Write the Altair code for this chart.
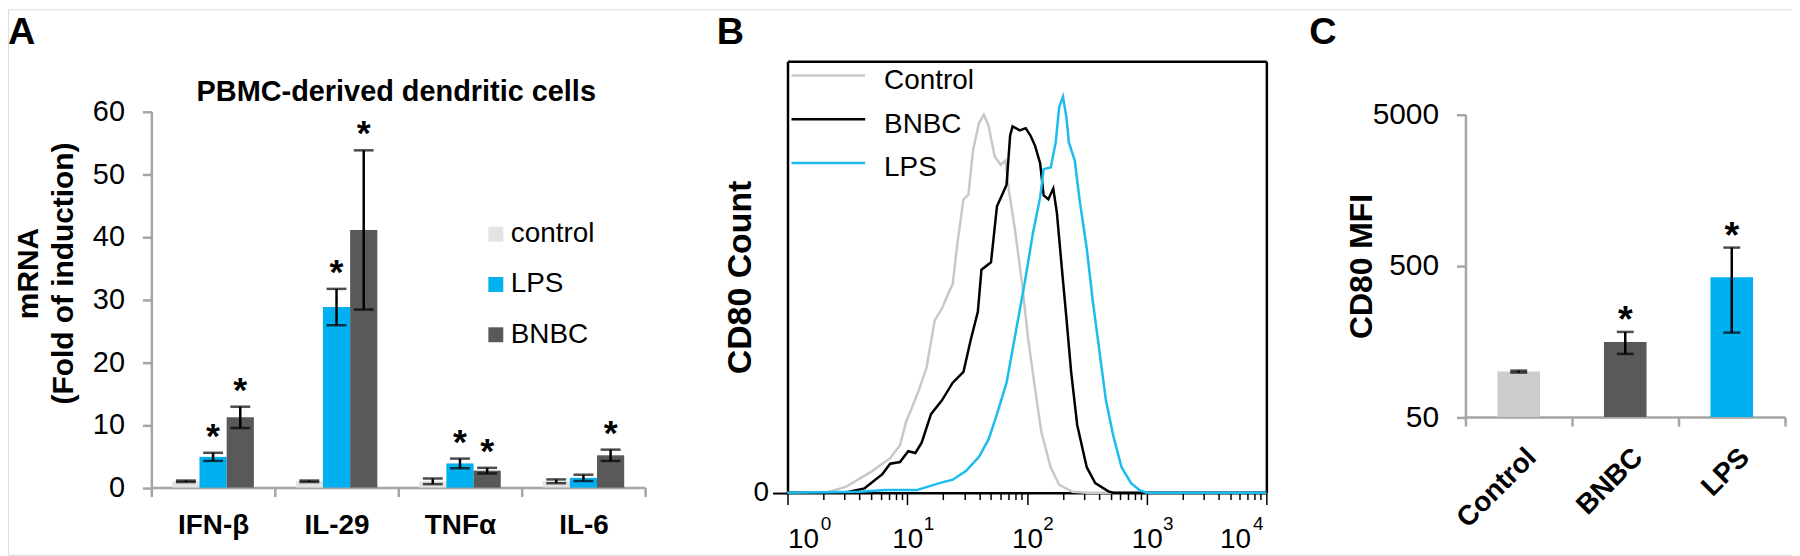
import altair as alt
import pandas as pd

FONT = "Liberation Sans"
GRAY_AXIS = "#a5a5a5"
W, H = 1792, 548

# ---------------- Panel A: mRNA fold of induction ----------------
genes = ["IFN-β", "IL-29", "TNFα", "IL-6"]
groups_a = ["control", "LPS", "BNBC"]
colors_a = ["#e3e3e3", "#00b0f0", "#595959"]
control_mean = [1.0, 1.0, 1.0, 1.0]
control_err = [0.12, 0.12, 0.45, 0.3]
lps_mean = [4.9, 28.8, 3.85, 1.55]
lps_err = [0.65, 2.9, 0.77, 0.5]
bnbc_mean = [11.2, 41.1, 2.7, 5.15]
bnbc_err = [1.7, 12.7, 0.45, 0.9]
control_star = ["", "", "", ""]
lps_star = ["*", "*", "*", ""]
bnbc_star = ["*", "*", "*", "*"]
a_ticks = [0, 10, 20, 30, 40, 50, 60]

# ---------------- Panel B: CD80 histogram ----------------
b_series = ["Control", "BNBC", "LPS"]
b_colors = ["#c8c8c8", "#000000", "#1cbcee"]
ctrl_x = [1, 2.1, 3.1, 5.1, 7.2, 8.7, 9.8, 10.7, 12.6, 14.5, 17, 19.5, 21.9, 24, 26.3, 29.5, 32.4,
          35.5, 39.8, 43.7, 47.9, 53.7, 60.3, 66.1, 70.8, 79.4, 91.2, 102, 117, 132, 158, 186,
          240, 316, 10000]
ctrl_y = [0, 0, 1.4, 5, 8, 11, 16.5, 19, 24, 29, 40, 42.7, 46, 48.4, 58, 68, 69,
          79.5, 85.7, 87.6, 85, 78, 76, 77, 70, 61, 48.4, 36, 24, 14, 5.9, 1.8,
          0.2, 0, 0]
bnbc_x = [1, 3.0, 4.4, 6.2, 7.2, 8.7, 10.2, 11.7, 13.2, 15.8, 19.5, 24, 29.5, 33.9, 38.9, 41.7,
          50.1, 56.2, 61.7, 67.6, 72.4, 75.9, 87.1, 97.7, 107, 117, 129, 138, 151, 166, 178,
          195, 214, 234, 263, 316, 372, 479, 525, 10000]
bnbc_y = [0, 0, 1, 4.3, 6.7, 7.1, 9.6, 9.2, 11.6, 18.2, 21.4, 25.5, 28, 35.4, 41.9, 51.7,
          53.4, 66.4, 68.9, 71.4, 82.8, 84.9, 84, 84.5, 82.8, 80.4, 76.3, 68.9, 68, 70.5, 64.8,
          52.5, 40.3, 28, 15.7, 5.9, 2.2, 0.3, 0, 0]
lps_x = [1, 4.0, 6.6, 12, 18.6, 24, 30.9, 39.8, 47.9, 56.2, 67.6, 79.4, 95.5, 112, 129, 138,
         158, 174, 186, 200, 214, 224, 251, 275, 316, 355, 407, 457, 525, 617, 741, 871,
         1000, 10000]
lps_y = [0, 0.2, 0.6, 0.6, 2.2, 3, 5, 8.3, 12.4, 18.2, 25.5, 36.2, 48.4, 60, 68.5, 75,
         75.4, 81.2, 89.4, 91.8, 86.9, 81.2, 77, 68, 56.6, 44.4, 32, 21.4, 13.3, 5.9, 2.2, 0.6,
         0, 0]
b_tick_values = [1, 2, 3, 4, 5, 6, 7, 8, 9,
                 10, 20, 30, 40, 50, 60, 70, 80, 90,
                 100, 200, 300, 400, 500, 600, 700, 800, 900,
                 1000, 2000, 3000, 4000, 5000, 6000, 7000, 8000, 9000, 10000]

# ---------------- Panel C: CD80 MFI ----------------
conds = ["Control", "BNBC", "LPS"]
colors_c = ["#cccccc", "#595959", "#00b0f0"]
mfi_mean = [100, 157, 421]
mfi_err = [1.5, 26, 240]
mfi_star = ["", "*", "*"]
c_ticks = [50, 500, 5000]

letters = ["A", "B", "C"]
title_a = "PBMC-derived dendritic cells"

# ---------------- tables ----------------
rows = []
for grp, means, errs, stars in [("control", control_mean, control_err, control_star),
                                ("LPS", lps_mean, lps_err, lps_star),
                                ("BNBC", bnbc_mean, bnbc_err, bnbc_star)]:
    for g, m, e, s in zip(genes, means, errs, stars):
        rows.append(dict(gene=g, group=grp, mean=m, lower=m - e, upper=m + e, star=s))
dfA = pd.DataFrame(rows)

rows = []
for name, xs, ys in [("Control", ctrl_x, ctrl_y), ("BNBC", bnbc_x, bnbc_y), ("LPS", lps_x, lps_y)]:
    for xv, yv in zip(xs, ys):
        rows.append(dict(series=name, intensity=xv, count=yv))
dfB = pd.DataFrame(rows)

dfC = pd.DataFrame(dict(cond=conds, mean=mfi_mean,
                        lower=[m - e for m, e in zip(mfi_mean, mfi_err)],
                        upper=[m + e for m, e in zip(mfi_mean, mfi_err)],
                        star=mfi_star))

# ---------------- Panel A chart ----------------
A_LEFT, A_RIGHT, A_BOTTOM, A_TOP = 144, 640, 480.5, 102.7
xA_scale = alt.Scale(domain=genes, range=[A_LEFT, A_RIGHT], paddingInner=0, paddingOuter=0)
yA_scale = alt.Scale(domain=[0, 60], range=[A_BOTTOM, A_TOP], nice=False, zero=True)
xoA = alt.XOffset("group:N", sort=groups_a,
                  scale=alt.Scale(domain=groups_a, paddingInner=0, paddingOuter=0.77))

xA_axis = alt.Axis(orient="bottom", offset=A_BOTTOM - H, title=None, labelAngle=0, labelFont=FONT,
                   labelFontSize=28, labelFontWeight="bold", labelColor="black", labelPadding=15,
                   tickBand="extent", tickSize=9, tickWidth=2.5, tickColor=GRAY_AXIS,
                   domainColor=GRAY_AXIS, domainWidth=2.5, grid=False)
yA_axis = alt.Axis(orient="left", offset=-A_LEFT, values=a_ticks, title=["mRNA", "(Fold of induction)"],
                   titleFont=FONT, titleFontSize=30, titleFontWeight="bold", titleColor="black",
                   titleLineHeight=35, titleX=-114, titleY=265, titleBaseline="alphabetic",
                   titleAngle=270, titleAlign="center",
                   labelFont=FONT, labelFontSize=29, labelColor="black", labelPadding=18,
                   tickSize=9, tickWidth=2.5, tickColor=GRAY_AXIS, domainColor=GRAY_AXIS,
                   domainWidth=2.5, grid=False)

xA = alt.X("gene:N", sort=genes, scale=xA_scale, axis=xA_axis)
xA_plain = alt.X("gene:N", sort=genes, scale=xA_scale, axis=None)

barsA = alt.Chart(dfA).mark_bar().encode(
    x=xA, xOffset=xoA,
    y=alt.Y("mean:Q", scale=yA_scale, axis=yA_axis),
    color=alt.Color("group:N", sort=groups_a, scale=alt.Scale(domain=groups_a, range=colors_a),
                    legend=alt.Legend(orient="none", legendX=476, legendY=212, title=None,
                                      symbolType="square", symbolSize=225, symbolStrokeWidth=0,
                                      labelFont=FONT, labelFontSize=28, labelColor="black",
                                      labelOffset=1, rowPadding=22.5, padding=0,
                                      direction="vertical")),
)
errA = alt.Chart(dfA).mark_rule(color="black", strokeWidth=2.5).encode(
    x=xA_plain, xOffset=xoA,
    y=alt.Y("lower:Q", scale=yA_scale, axis=None), y2="upper:Q")
capsA = alt.Chart(dfA).transform_fold(["lower", "upper"], as_=["end", "val"]).mark_tick(
    orient="horizontal", size=20, thickness=2.5, color="black").encode(
    x=xA_plain, xOffset=xoA, y=alt.Y("val:Q", scale=yA_scale, axis=None))
starsA = alt.Chart(dfA).transform_filter("datum.star != ''").mark_text(
    font=FONT, fontSize=36, fontWeight="bold", baseline="alphabetic", align="center",
    dy=-5, color="black").encode(
    x=xA_plain, xOffset=xoA, y=alt.Y("upper:Q", scale=yA_scale, axis=None), text="star:N")
layerA = alt.layer(barsA, errA, capsA, starsA).resolve_axis(x="independent", y="independent")

# ---------------- Panel B chart ----------------
B_LEFT, B_RIGHT, B_BOTTOM, B_TOP = 783, 1264, 485.6, 52.3
xB_scale = alt.Scale(type="log", domain=[1, 10000], range=[B_LEFT, B_RIGHT], nice=False)
yB_scale = alt.Scale(domain=[0, 100], range=[B_BOTTOM, B_TOP], nice=False, zero=True)
major_test = ("datum.value == 1 || datum.value == 10 || datum.value == 100 || "
              "datum.value == 1000 || datum.value == 10000")
base_expr = "(" + major_test + ") ? '10' : ''"
exp_expr = ("datum.value == 1 ? '0' : datum.value == 10 ? '1' : datum.value == 100 ? '2' : "
            "datum.value == 1000 ? '3' : datum.value == 10000 ? '4' : ''")
xB_axis = alt.Axis(orient="bottom", offset=B_BOTTOM - H, title=None, values=b_tick_values,
                   labelExpr=base_expr, labelOverlap=False, labelFont=FONT,
                   labelFontSize=28, labelColor="black", labelPadding=21,
                   labelAlign={"condition": [{"test": "datum.value == 1", "value": "left"},
                                             {"test": "datum.value == 10000", "value": "right"}],
                               "value": "center"},
                   labelOffset={"condition": {"test": "datum.value == 10000", "value": -16},
                                "value": 0},
                   tickSize={"condition": {"test": major_test, "value": 12}, "value": 7},
                   tickWidth=1.5, tickColor="black", domainColor="black", domainWidth=2.5,
                   grid=False)
xB_exp_axis = alt.Axis(orient="bottom", offset=B_BOTTOM - H, title=None, values=b_tick_values,
                       labelExpr=exp_expr, labelOverlap=False, labelFont=FONT,
                       labelFontSize=19, labelColor="black", labelPadding=22, labelAlign="left",
                       labelOffset={"condition": [{"test": "datum.value == 1", "value": 33},
                                                  {"test": "datum.value == 10000", "value": -14}],
                                    "value": 16},
                       ticks=False, tickSize=0, domain=False, grid=False)
yB_axis = alt.Axis(orient="left", offset=-B_LEFT, values=[0], title="CD80 Count", titleFont=FONT,
                   titleFontSize=34, titleFontWeight="bold", titleColor="black", titleX=-37,
                   titleBaseline="alphabetic", titleAngle=270, labelFont=FONT, labelFontSize=28,
                   labelColor="black", labelPadding=4, tickSize=15, tickWidth=2, tickColor="black",
                   domainColor="black", domainWidth=2.5, grid=False)

linesB = alt.Chart(dfB).mark_line(strokeWidth=2.5).encode(
    x=alt.X("intensity:Q", scale=xB_scale, axis=xB_axis),
    y=alt.Y("count:Q", scale=yB_scale, axis=yB_axis),
    color=alt.Color("series:N", sort=b_series, scale=alt.Scale(domain=b_series, range=b_colors),
                    legend=alt.Legend(orient="none", legendX=810, legendY=58, title=None,
                                      symbolType="M-3.7,-0.55H3.7", symbolSize=400,
                                      symbolStrokeWidth=2.5, labelFont=FONT, labelFontSize=28,
                                      labelColor="black", labelOffset=42, rowPadding=16,
                                      padding=0, symbolOffset=0, direction="vertical")),
)
frameB = alt.Chart(dfB).mark_line(strokeOpacity=0).encode(
    x=alt.X("intensity:Q", scale=xB_scale,
            axis=alt.Axis(orient="top", offset=-B_TOP, title=None, ticks=False, labels=False,
                          domainColor="black", domainWidth=2.5, grid=False)),
    y=alt.Y("count:Q", scale=yB_scale,
            axis=alt.Axis(orient="right", offset=B_RIGHT - W, title=None, ticks=False, labels=False,
                          domainColor="black", domainWidth=2.5, grid=False)),
    detail="series:N")
expB = alt.Chart(dfB).mark_line(strokeOpacity=0).encode(
    x=alt.X("intensity:Q", scale=xB_scale, axis=xB_exp_axis),
    y=alt.Y("count:Q", scale=yB_scale, axis=None),
    detail="series:N")
layerB = alt.layer(linesB, frameB, expB).resolve_axis(x="independent", y="independent")

# ---------------- Panel C chart ----------------
C_LEFT, C_RIGHT, C_BOTTOM, C_TOP = 1464, 1785, 409.7, 106
xC_scale = alt.Scale(domain=conds, range=[C_LEFT, C_RIGHT], paddingInner=0, paddingOuter=0)
yC_scale = alt.Scale(type="log", domain=[50, 5000], range=[C_BOTTOM, C_TOP], nice=False)
xC_axis = alt.Axis(orient="bottom", offset=C_BOTTOM - H, title=None, labelAngle=315, labelAlign="right",
                   labelBaseline="middle", labelFont=FONT, labelFontSize=28, labelFontWeight="bold",
                   labelColor="black", labelPadding=27, labelOffset=13, tickBand="extent", tickSize=9,
                   tickWidth=2.5, tickColor=GRAY_AXIS, domainColor=GRAY_AXIS, domainWidth=2.5,
                   grid=False)
yC_axis = alt.Axis(orient="left", offset=-C_LEFT, values=c_ticks, format="d", title="CD80 MFI",
                   titleFont=FONT, titleFontSize=32, titleFontWeight="bold", titleColor="black",
                   titleX=-94, titleBaseline="alphabetic", titleAngle=270, labelFont=FONT,
                   labelFontSize=30, labelColor="black", labelPadding=18, tickSize=9, tickWidth=2.5,
                   tickColor=GRAY_AXIS, domainColor=GRAY_AXIS, domainWidth=2.5, grid=False)
xC_plain = alt.X("cond:N", sort=conds, scale=xC_scale, axis=None)

barsC = alt.Chart(dfC).mark_bar(width=alt.RelativeBandSize(0.4)).encode(
    x=alt.X("cond:N", sort=conds, scale=xC_scale, axis=xC_axis),
    y=alt.Y("mean:Q", scale=yC_scale, axis=yC_axis),
    y2=alt.datum(50),
    color=alt.Color("cond:N", sort=conds, scale=alt.Scale(domain=conds, range=colors_c),
                    legend=None),
)
errC = alt.Chart(dfC).mark_rule(color="black", strokeWidth=2.5).encode(
    x=xC_plain, y=alt.Y("lower:Q", scale=yC_scale, axis=None), y2="upper:Q")
capsC = alt.Chart(dfC).transform_fold(["lower", "upper"], as_=["end", "val"]).mark_tick(
    orient="horizontal", size=17, thickness=2.5, color="black").encode(
    x=xC_plain, y=alt.Y("val:Q", scale=yC_scale, axis=None))
starsC = alt.Chart(dfC).transform_filter("datum.star != ''").mark_text(
    font=FONT, fontSize=38, fontWeight="bold", baseline="alphabetic", align="center",
    dy=0, color="black").encode(
    x=xC_plain, y=alt.Y("upper:Q", scale=yC_scale, axis=None), text="star:N")
layerC = alt.layer(barsC, errC, capsC, starsC).resolve_axis(x="independent", y="independent")

# ---------------- annotations ----------------
def letter(t, xpos):
    return alt.Chart(pd.DataFrame({"t": [t]})).mark_text(
        font=FONT, fontSize=38, fontWeight="bold", align="left", baseline="alphabetic",
        color="black"
    ).encode(x=alt.value(xpos), y=alt.value(35), text="t:N")

letterA = letter(letters[0], 0)
letterB = letter(letters[1], 712)
letterC = letter(letters[2], 1307)
titleA = alt.Chart(pd.DataFrame({"t": [title_a]})).mark_text(
    font=FONT, fontSize=29, fontWeight="bold", align="center", baseline="alphabetic", color="black"
).encode(x=alt.value(390), y=alt.value(92), text="t:N")

chart = alt.layer(layerA, layerB, layerC, letterA, letterB, letterC, titleA).resolve_scale(
    x="independent", y="independent", color="independent"
).properties(
    width=W, height=H, padding=0, autosize=alt.AutoSizeParams(type="none")
).configure_view(stroke=None).configure(font=FONT)

chart.save("out.html", embed_options={"renderer": "svg", "actions": False})
